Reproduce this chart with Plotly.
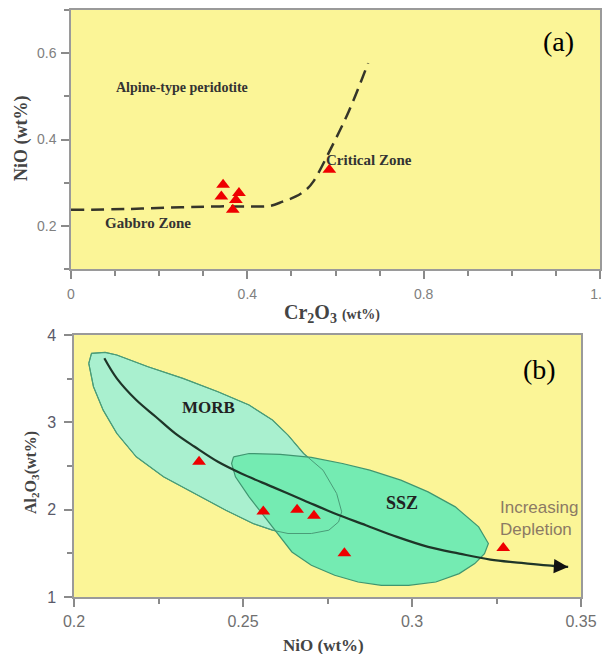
import plotly.graph_objects as go

# ---------------- Panel (a) data ----------------
a_x = [0.345, 0.341, 0.367, 0.374, 0.381, 0.586]
a_y = [0.295, 0.268, 0.237, 0.260, 0.276, 0.330]
a_curve_x = [0, 0.13, 0.25, 0.33, 0.40, 0.45, 0.48, 0.51, 0.535, 0.55, 0.59, 0.63, 0.674]
a_curve_y = [0.237, 0.239, 0.243, 0.245, 0.245, 0.246, 0.256, 0.268, 0.285, 0.303, 0.38, 0.465, 0.577]
a_xticks = [0, 0.4, 0.8, 1.2]
a_xticklabels = ["0", "0.4", "0.8", "1.2"]
a_yticks = [0.2, 0.4, 0.6]
a_yticklabels = ["0.2", "0.4", "0.6"]

# ---------------- Panel (b) data ----------------
b_x = [0.237, 0.256, 0.266, 0.271, 0.280, 0.327]
b_y = [2.55, 1.98, 2.00, 1.93, 1.50, 1.56]
morb_x = [0.20437, 0.20518, 0.20921, 0.21266, 0.22187, 0.23223, 0.24259, 0.25180, 0.25871,
          0.26332, 0.26792, 0.27368, 0.27771, 0.27920, 0.27828, 0.27540, 0.27022, 0.26332,
          0.25871, 0.25296, 0.24490, 0.23569, 0.22648, 0.21842, 0.21266, 0.20863, 0.20576, 0.20437]
morb_y = [3.675, 3.790, 3.801, 3.771, 3.637, 3.503, 3.350, 3.198, 3.026, 2.854, 2.643, 2.452,
          2.185, 1.975, 1.860, 1.765, 1.727, 1.727, 1.765, 1.841, 1.994, 2.185, 2.376, 2.605,
          2.873, 3.140, 3.408, 3.675]
ssz_x = [0.24720, 0.25180, 0.26101, 0.27022, 0.27943, 0.28749, 0.29670, 0.30476, 0.31282,
         0.31972, 0.32260, 0.32145, 0.31857, 0.31397, 0.30706, 0.29900, 0.29094, 0.28404,
         0.27713, 0.27022, 0.26447, 0.26101, 0.25641, 0.25180, 0.24777, 0.24662, 0.24720]
ssz_y = [2.605, 2.643, 2.632, 2.598, 2.529, 2.452, 2.338, 2.204, 2.032, 1.803, 1.612, 1.497,
         1.383, 1.268, 1.172, 1.134, 1.134, 1.172, 1.249, 1.363, 1.516, 1.688, 1.917, 2.147,
         2.376, 2.529, 2.605]
trend_x = [0.20898, 0.21266, 0.21842, 0.22418, 0.22993, 0.23569, 0.24259, 0.24950, 0.25871,
           0.26792, 0.27713, 0.28634, 0.29555, 0.30476, 0.31397, 0.32318, 0.33239, 0.34275, 0.34620]
trend_y = [3.733, 3.503, 3.255, 3.064, 2.873, 2.720, 2.548, 2.414, 2.261, 2.109, 1.956, 1.822,
           1.688, 1.574, 1.497, 1.428, 1.390, 1.352, 1.344]
b_xticks = [0.2, 0.25, 0.3, 0.35]
b_xticklabels = ["0.2", "0.25", "0.3", "0.35"]
b_yticks = [1, 2, 3, 4]
b_yticklabels = ["1", "2", "3", "4"]

YELLOW = "#FBF597"
SERIF = "Liberation Serif, Times New Roman, serif"
SANS = "Liberation Sans, Arial, sans-serif"

# The page body has an 8px default margin, so the figure is laid out in
# page pixels shifted by OFF.
OFF = 8
W, H = 602, 646


def px(x):
    return (x - OFF) / W


def py(y):
    return 1 - (y - OFF) / H


fig = go.Figure()

# Panel (a)
fig.add_trace(go.Scatter(x=a_curve_x, y=a_curve_y, mode="lines", xaxis="x", yaxis="y",
                         line=dict(color="#35352a", width=2.5, dash="13px,7px", shape="spline"),
                         hoverinfo="skip", showlegend=False))
fig.add_trace(go.Scatter(x=a_x, y=a_y, mode="markers", xaxis="x", yaxis="y",
                         marker=dict(symbol="triangle-up", size=12, color="#EE0000"),
                         showlegend=False))

# Panel (b)
fig.add_trace(go.Scatter(x=morb_x, y=morb_y, mode="lines", fill="toself", xaxis="x2", yaxis="y2",
                         fillcolor="#A9F0CF", line=dict(color="#4A9C78", width=1.2),
                         hoverinfo="skip", showlegend=False))
fig.add_trace(go.Scatter(x=ssz_x, y=ssz_y, mode="lines", fill="toself", xaxis="x2", yaxis="y2",
                         fillcolor="#74EBB2", line=dict(color="#3F9670", width=1.2),
                         hoverinfo="skip", showlegend=False))
fig.add_trace(go.Scatter(x=morb_x, y=morb_y, mode="lines", xaxis="x2", yaxis="y2",
                         line=dict(color="#4A9C78", width=1.0),
                         hoverinfo="skip", showlegend=False))
fig.add_trace(go.Scatter(x=trend_x, y=trend_y, mode="lines", xaxis="x2", yaxis="y2",
                         line=dict(color="#1E3528", width=2.2, shape="spline"),
                         hoverinfo="skip", showlegend=False))
fig.add_trace(go.Scatter(x=b_x, y=b_y, mode="markers", xaxis="x2", yaxis="y2",
                         marker=dict(symbol="triangle-up", size=12, color="#EE0000"),
                         showlegend=False))

axis_common = dict(showline=True, linecolor="#9a9a9a", linewidth=1.5, mirror=True,
                   showgrid=False, zeroline=False, ticks="outside", tickcolor="#8a8a8a",
                   ticklen=8, tickwidth=1.5, automargin=False)

fig.update_layout(
    width=W, height=H,
    margin=dict(l=0, r=0, t=0, b=0, autoexpand=False),
    paper_bgcolor="white",
    plot_bgcolor=YELLOW,
    showlegend=False,
    xaxis=dict(domain=[px(71), px(600)], range=[0, 1.2], anchor="y",
               tickvals=a_xticks, ticktext=a_xticklabels, ticklabelstandoff=3,
               tickfont=dict(family=SANS, size=14, color="#808080"),
               minor=dict(dtick=0.1, ticks="outside", ticklen=5, tickcolor="#8a8a8a"),
               **axis_common),
    yaxis=dict(domain=[py(269), py(10)], range=[0.1, 0.7], anchor="x",
               tickvals=a_yticks, ticktext=a_yticklabels, ticklabelstandoff=2,
               tickfont=dict(family=SANS, size=14, color="#808080"),
               minor=dict(dtick=0.1, ticks="outside", ticklen=5, tickcolor="#8a8a8a"),
               **axis_common),
    xaxis2=dict(domain=[px(74), px(581)], range=[0.2, 0.35], anchor="y2",
                tickvals=b_xticks, ticktext=b_xticklabels, ticklabelstandoff=1,
                tickfont=dict(family=SANS, size=16, color="#707070"),
                minor=dict(dtick=0.025, ticks="outside", ticklen=5, tickcolor="#8a8a8a"),
                **axis_common),
    yaxis2=dict(domain=[py(597), py(335)], range=[1, 4], anchor="x2",
                tickvals=b_yticks, ticktext=b_yticklabels, ticklabelstandoff=5,
                tickfont=dict(family=SANS, size=16, color="#5a5a6a"),
                minor=dict(dtick=0.5, ticks="outside", ticklen=5, tickcolor="#8a8a8a"),
                **axis_common),
)

C = dict(xanchor="center", yanchor="middle", showarrow=False)
ann = []
# panel (a) text
ann.append(dict(x=0.252, y=0.52, xref="x", yref="y", text="<b>Alpine-type peridotite</b>",
                font=dict(family=SERIF, size=14, color="#333333"), **C))
ann.append(dict(x=0.575, y=0.353, xref="x", yref="y", text="<b>Critical Zone</b>",
                xanchor="left", yanchor="middle", showarrow=False,
                font=dict(family=SERIF, size=15, color="#333333")))
ann.append(dict(x=0.072, y=0.206, xref="x", yref="y", text="<b>Gabbro Zone</b>",
                xanchor="left", yanchor="middle", showarrow=False,
                font=dict(family=SERIF, size=15, color="#333333")))
ann.append(dict(x=1.105, y=0.627, xref="x", yref="y", text="(a)",
                font=dict(family=SERIF, size=28, color="black"), **C))
# panel (b) text
ann.append(dict(x=0.2397, y=3.17, xref="x2", yref="y2", text="<b>MORB</b>",
                font=dict(family=SERIF, size=17, color="#222222"), **C))
ann.append(dict(x=0.297, y=2.08, xref="x2", yref="y2", text="<b>SSZ</b>",
                font=dict(family=SERIF, size=18, color="#222222"), **C))
ann.append(dict(x=0.3255, y=1.895, xref="x2", yref="y2", text="Increasing<br>Depletion",
                xanchor="left", yanchor="middle", align="left", showarrow=False,
                font=dict(family=SANS, size=17, color="#8C7A64")))
ann.append(dict(x=0.3376, y=3.60, xref="x2", yref="y2", text="(b)",
                font=dict(family=SERIF, size=28, color="black"), **C))
# arrow head on the trend line
ann.append(dict(x=trend_x[-1], y=trend_y[-1], ax=trend_x[-2], ay=trend_y[-2],
                xref="x2", yref="y2", axref="x2", ayref="y2", text="", showarrow=True,
                arrowhead=2, arrowsize=1.3, arrowwidth=2.2, arrowcolor="#111111"))
# axis titles
ann.append(dict(x=px(21), y=py(139), xref="paper", yref="paper", text="<b>NiO (wt%)</b>",
                textangle=-90, font=dict(family=SERIF, size=18, color="#444444"), **C))
ann.append(dict(x=px(332), y=py(313), xref="paper", yref="paper",
                text="<b>Cr<sub>2</sub>O<sub>3</sub> <span style='font-size:14px'>(wt%)</span></b>",
                font=dict(family=SERIF, size=20, color="#444444"), **C))
ann.append(dict(x=px(31), y=py(473), xref="paper", yref="paper",
                text="<b>Al<sub>2</sub>O<sub>3</sub>(wt%)</b>",
                textangle=-90, font=dict(family=SERIF, size=16, color="#444444"), **C))
ann.append(dict(x=px(323), y=py(645), xref="paper", yref="paper", text="<b>NiO (wt%)</b>",
                font=dict(family=SERIF, size=17, color="#444444"), **C))
fig.update_layout(annotations=ann)

fig.write_html("out.html")
